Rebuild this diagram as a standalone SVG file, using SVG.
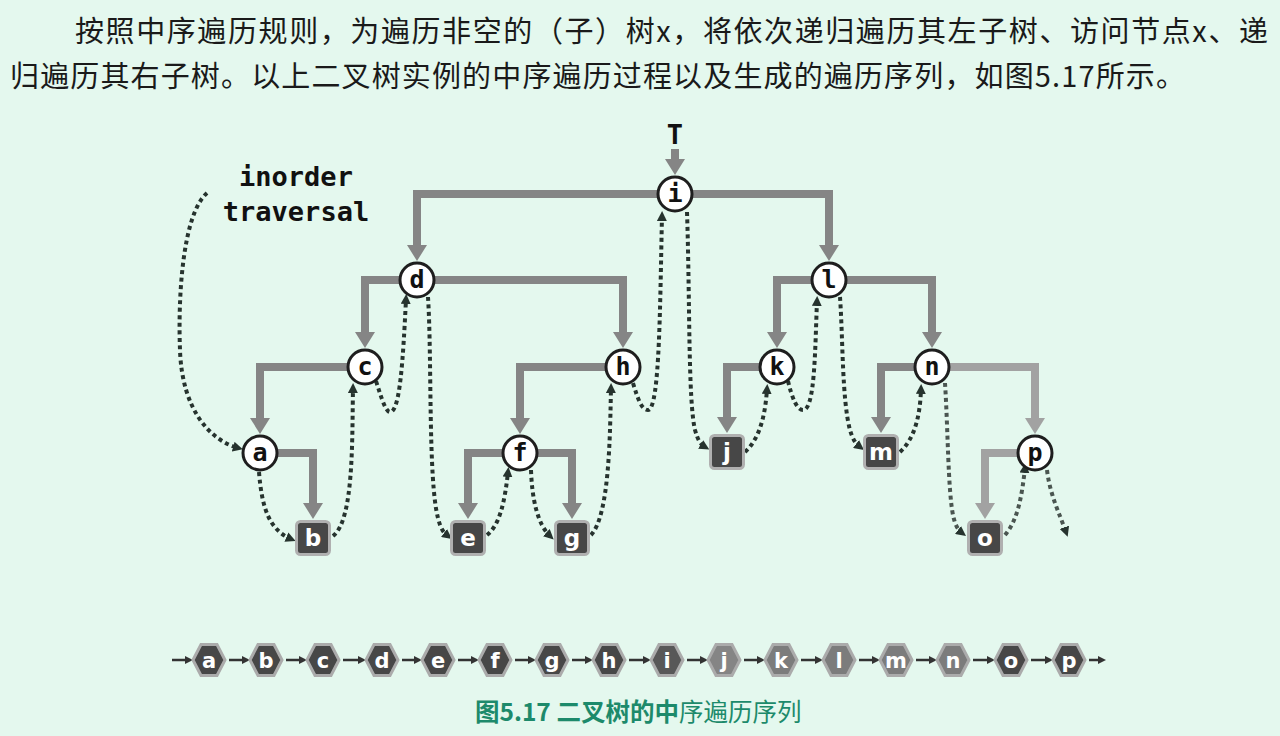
<svg xmlns="http://www.w3.org/2000/svg" width="1280" height="736" viewBox="0 0 1280 736">
<style>
.hdr{font-family:"Noto Sans CJK SC","Noto Sans",sans-serif;font-size:29px;fill:#1a1a1a}
.lbl{font-family:"DejaVu Sans Mono","Liberation Mono",monospace;font-weight:bold;font-size:27px;fill:#111}
.edge{fill:none;stroke:#858585;stroke-width:8}
.edgef{fill:none;stroke:#a2a2a2;stroke-width:8}
.dot{fill:none;stroke:#26332e;stroke-width:4;stroke-dasharray:4 3.5}
.dotf{fill:none;stroke:#4a5550;stroke-width:4;stroke-dasharray:4 3.5}
.cir{fill:#fff;stroke:#1e1e1e;stroke-width:3}
.ct{font-family:"DejaVu Sans Mono","Liberation Mono",monospace;font-weight:bold;font-size:25px;fill:#111;text-anchor:middle}
.sq{fill:#474747;stroke:#b0b0b0;stroke-width:3}
.st{font-family:"DejaVu Sans","Liberation Sans",sans-serif;font-weight:bold;font-size:23px;fill:#fff;text-anchor:middle}
.hx{stroke:#ababab;stroke-width:3}
.ht{font-family:"DejaVu Sans","Liberation Sans",sans-serif;font-weight:bold;font-size:21px;fill:#fff;text-anchor:middle}
.sa{fill:none;stroke:#333;stroke-width:2.5}
.cap{font-family:"Noto Sans CJK SC","Noto Sans",sans-serif;font-size:24.5px;fill:#1d8a6b}
</style>
<defs>
<marker id="ah" markerUnits="userSpaceOnUse" viewBox="0 0 16 20" markerWidth="16" markerHeight="20" refX="0" refY="10" orient="auto">
<path d="M0,0 L16,10 L0,20 z" fill="#858585"/>
</marker>
<marker id="ahf" markerUnits="userSpaceOnUse" viewBox="0 0 16 20" markerWidth="16" markerHeight="20" refX="0" refY="10" orient="auto">
<path d="M0,0 L16,10 L0,20 z" fill="#a2a2a2"/>
</marker>
<marker id="da" markerUnits="userSpaceOnUse" viewBox="0 0 10 10" markerWidth="10" markerHeight="10" refX="5" refY="5" orient="auto">
<path d="M0,0 L10,5 L0,10 z" fill="#26332e"/>
</marker>
<marker id="sm" markerUnits="userSpaceOnUse" viewBox="0 0 8 8" markerWidth="8" markerHeight="8" refX="2" refY="4" orient="auto">
<path d="M0,0 L8,4 L0,8 z" fill="#333"/>
</marker>
<polygon id="hex" points="-16,0 -8,-15.5 8,-15.5 16,0 8,15.5 -8,15.5"/>
</defs>
<rect width="1280" height="736" fill="#e4f8ee"/>

<g id="header">
<text class="hdr" x="75" y="42" textLength="1193" lengthAdjust="spacing">按照中序遍历规则，为遍历非空的（子）树x，将依次递归遍历其左子树、访问节点x、递</text>
<text class="hdr" x="10" y="87" textLength="1175" lengthAdjust="spacing">归遍历其右子树。以上二叉树实例的中序遍历过程以及生成的遍历序列，如图5.17所示。</text>
</g>

<g id="label">
<text class="lbl" x="296" y="186" text-anchor="middle">inorder</text>
<text class="lbl" x="296" y="221" text-anchor="middle">traversal</text>
<text class="lbl" x="675" y="144" text-anchor="middle" font-size="23">T</text>
</g>

<g id="connectors">
<path class="edge" d="M675,149 V159" marker-end="url(#ah)"/>
<path class="edge" d="M675,194 H417 V245" marker-end="url(#ah)"/>
<path class="edge" d="M675,194 H829 V245" marker-end="url(#ah)"/>
<path class="edge" d="M417,280 H365 V332" marker-end="url(#ah)"/>
<path class="edge" d="M417,280 H623 V332" marker-end="url(#ah)"/>
<path class="edge" d="M829,280 H777 V332" marker-end="url(#ah)"/>
<path class="edge" d="M829,280 H932 V332" marker-end="url(#ah)"/>
<path class="edge" d="M365,367 H260 V418" marker-end="url(#ah)"/>
<path class="edge" d="M623,367 H520 V418" marker-end="url(#ah)"/>
<path class="edge" d="M777,367 H727 V417" marker-end="url(#ah)"/>
<path class="edge" d="M932,367 H881 V417" marker-end="url(#ah)"/>
<path class="edgef" d="M932,367 H1035 V418" marker-end="url(#ahf)"/>
<path class="edge" d="M260,453 H313 V503" marker-end="url(#ah)"/>
<path class="edge" d="M520,453 H468 V503" marker-end="url(#ah)"/>
<path class="edge" d="M520,453 H572 V503" marker-end="url(#ah)"/>
<path class="edgef" d="M1035,453 H985 V503" marker-end="url(#ahf)"/>

<path class="dot" d="M207,193 C182,215 178,300 180,350 C182,410 210,440 238,448" marker-end="url(#da)"/>
<path class="dot" d="M259,472 C262,510 270,530 291,539" marker-end="url(#da)"/>
<path class="dot" d="M333,536 C354,520 352,440 353,388" marker-end="url(#da)"/>
<path class="dot" d="M376,381 C382,400 386,412 390,412 C400,412 403,360 406,299" marker-end="url(#da)"/>
<path class="dot" d="M428,297 C432,360 428,480 438,518 C441,530 444,533 448,536" marker-end="url(#da)"/>
<path class="dot" d="M487,535 C500,525 505,500 508,472" marker-end="url(#da)"/>
<path class="dot" d="M531,470 C532,500 538,525 550,536" marker-end="url(#da)"/>
<path class="dot" d="M591,535 C610,515 610,430 611,388" marker-end="url(#da)"/>
<path class="dot" d="M633,383 C638,400 642,410 648,410 C660,410 660,300 662,216" marker-end="url(#da)"/>
<path class="dot" d="M687,212 C690,300 688,400 695,430 C698,440 700,444 705,447" marker-end="url(#da)"/>
<path class="dot" d="M745,452 C758,440 765,420 767,389" marker-end="url(#da)"/>
<path class="dot" d="M788,381 C792,398 797,410 803,410 C815,410 815,350 817,301" marker-end="url(#da)"/>
<path class="dot" d="M840,297 C843,340 842,400 850,430 C853,440 856,444 860,447" marker-end="url(#da)"/>
<path class="dot" d="M900,452 C913,440 920,420 921,389" marker-end="url(#da)"/>
<path class="dotf" d="M945,383 C948,430 948,490 953,515 C955,525 958,530 962,533" marker-end="url(#da)"/>
<path class="dotf" d="M1005,535 C1018,520 1022,495 1025,468" marker-end="url(#da)"/>
<path class="dotf" d="M1047,470 C1050,495 1060,515 1066,532" marker-end="url(#da)"/>
</g>

<g id="node-i"><circle class="cir" cx="675" cy="194" r="17"/><text class="ct" x="675" y="202">i</text></g>
<g id="node-d"><circle class="cir" cx="417" cy="280" r="17"/><text class="ct" x="417" y="288">d</text></g>
<g id="node-l"><circle class="cir" cx="829" cy="280" r="17"/><text class="ct" x="829" y="288">l</text></g>
<g id="node-c"><circle class="cir" cx="365" cy="367" r="17"/><text class="ct" x="365" y="375">c</text></g>
<g id="node-h"><circle class="cir" cx="623" cy="367" r="17"/><text class="ct" x="623" y="375">h</text></g>
<g id="node-k"><circle class="cir" cx="777" cy="367" r="17"/><text class="ct" x="777" y="375">k</text></g>
<g id="node-n"><circle class="cir" cx="932" cy="367" r="17"/><text class="ct" x="932" y="375">n</text></g>
<g id="node-a"><circle class="cir" cx="260" cy="453" r="17"/><text class="ct" x="260" y="461">a</text></g>
<g id="node-f"><circle class="cir" cx="520" cy="453" r="17"/><text class="ct" x="520" y="461">f</text></g>
<g id="node-p"><circle class="cir" cx="1035" cy="453" r="17" stroke="#3a3a3a" fill="#f4f4f4"/><text class="ct" x="1035" y="461" fill="#333">p</text></g>
<g id="node-j"><rect class="sq" x="710.5" y="435.5" width="33" height="33" rx="4"/><text class="st" x="727" y="460">j</text></g>
<g id="node-m"><rect class="sq" x="864.5" y="435.5" width="33" height="33" rx="4"/><text class="st" x="881" y="460">m</text></g>
<g id="node-b"><rect class="sq" x="296.5" y="521.5" width="33" height="33" rx="4"/><text class="st" x="313" y="546">b</text></g>
<g id="node-e"><rect class="sq" x="451.5" y="521.5" width="33" height="33" rx="4"/><text class="st" x="468" y="546">e</text></g>
<g id="node-g"><rect class="sq" x="555.5" y="521.5" width="33" height="33" rx="4"/><text class="st" x="572" y="546">g</text></g>
<g id="node-o"><rect class="sq" x="968.5" y="521.5" width="33" height="33" rx="4" fill="#6c6c6c" stroke="#bcbcbc"/><text class="st" x="985" y="546">o</text></g>

<g id="sequence">
<path class="sa" d="M172,660 H187" marker-end="url(#sm)"/>
<path class="sa" d="M229,660 H244" marker-end="url(#sm)"/>
<path class="sa" d="M286,660 H301" marker-end="url(#sm)"/>
<path class="sa" d="M343,660 H360" marker-end="url(#sm)"/>
<path class="sa" d="M402,660 H416" marker-end="url(#sm)"/>
<path class="sa" d="M458,660 H473" marker-end="url(#sm)"/>
<path class="sa" d="M515,660 H530" marker-end="url(#sm)"/>
<path class="sa" d="M572,660 H587" marker-end="url(#sm)"/>
<path class="sa" d="M629,660 H645" marker-end="url(#sm)"/>
<path class="sa" d="M687,660 H702" marker-end="url(#sm)"/>
<path class="sa" d="M744,660 H759" marker-end="url(#sm)"/>
<path class="sa" d="M801,660 H817" marker-end="url(#sm)"/>
<path class="sa" d="M859,660 H874" marker-end="url(#sm)"/>
<path class="sa" d="M916,660 H931" marker-end="url(#sm)"/>
<path class="sa" d="M973,660 H989" marker-end="url(#sm)"/>
<path class="sa" d="M1031,660 H1047" marker-end="url(#sm)"/>
<path class="sa" d="M1089,660 H1100" marker-end="url(#sm)"/>
</g>
<g id="seq-a"><use href="#hex" x="209" y="660" class="hx" fill="#474747"/><text class="ht" x="209" y="668">a</text></g>
<g id="seq-b"><use href="#hex" x="266" y="660" class="hx" fill="#474747"/><text class="ht" x="266" y="668">b</text></g>
<g id="seq-c"><use href="#hex" x="323" y="660" class="hx" fill="#474747"/><text class="ht" x="323" y="668">c</text></g>
<g id="seq-d"><use href="#hex" x="382" y="660" class="hx" fill="#474747"/><text class="ht" x="382" y="668">d</text></g>
<g id="seq-e"><use href="#hex" x="438" y="660" class="hx" fill="#474747"/><text class="ht" x="438" y="668">e</text></g>
<g id="seq-f"><use href="#hex" x="495" y="660" class="hx" fill="#474747"/><text class="ht" x="495" y="668">f</text></g>
<g id="seq-g"><use href="#hex" x="552" y="660" class="hx" fill="#474747"/><text class="ht" x="552" y="668">g</text></g>
<g id="seq-h"><use href="#hex" x="609" y="660" class="hx" fill="#474747"/><text class="ht" x="609" y="668">h</text></g>
<g id="seq-i"><use href="#hex" x="667" y="660" class="hx" fill="#585858"/><text class="ht" x="667" y="668">i</text></g>
<g id="seq-j"><use href="#hex" x="724" y="660" class="hx" fill="#858585" stroke="#b8b8b8"/><text class="ht" x="724" y="668">j</text></g>
<g id="seq-k"><use href="#hex" x="781" y="660" class="hx" fill="#7c7c7c" stroke="#b8b8b8"/><text class="ht" x="781" y="668">k</text></g>
<g id="seq-l"><use href="#hex" x="839" y="660" class="hx" fill="#7c7c7c" stroke="#b8b8b8"/><text class="ht" x="839" y="668">l</text></g>
<g id="seq-m"><use href="#hex" x="896" y="660" class="hx" fill="#7c7c7c" stroke="#b8b8b8"/><text class="ht" x="896" y="668">m</text></g>
<g id="seq-n"><use href="#hex" x="953" y="660" class="hx" fill="#7c7c7c" stroke="#b8b8b8"/><text class="ht" x="953" y="668">n</text></g>
<g id="seq-o"><use href="#hex" x="1011" y="660" class="hx" fill="#474747"/><text class="ht" x="1011" y="668">o</text></g>
<g id="seq-p"><use href="#hex" x="1069" y="660" class="hx" fill="#474747"/><text class="ht" x="1069" y="668">p</text></g>

<g id="caption">
<text class="cap" x="475" y="721"><tspan font-weight="bold">图5.17 二叉树的中</tspan><tspan>序遍历序列</tspan></text>
</g>
</svg>
